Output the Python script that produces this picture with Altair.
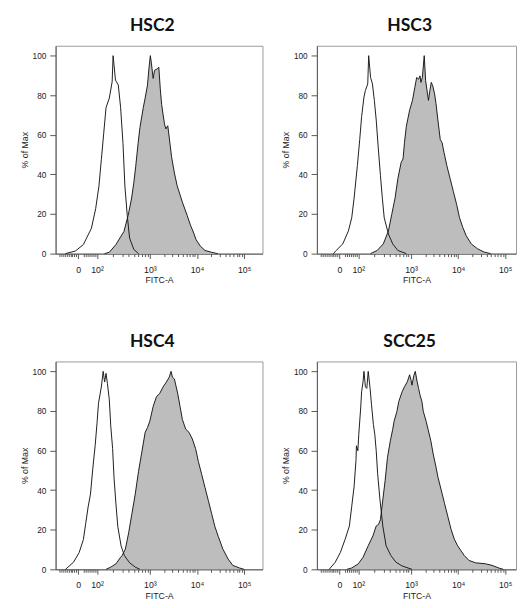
import altair as alt
import pandas as pd
import numpy as np

# ---- data (x in display units of the biexponential FITC-A axis:
#      10^3 -> 3, 10^4 -> 4, 10^5 -> 5, "0" -> 1.48, 10^2 -> 1.88; y in % of Max) ----
hsc2_ctrl_x = [1.21, 1.42, 1.59, 1.76, 1.85, 1.92, 1.97, 2.02, 2.07, 2.14, 2.20, 2.22, 2.27, 2.29,
               2.33, 2.38, 2.43, 2.47, 2.52, 2.57, 2.66, 2.76]
hsc2_ctrl_y = [0, 1.3, 4.6, 12.8, 22.7, 34.2, 47.4, 60.5, 73.7, 78.6, 86.8, 100, 87.7, 86.8,
               85.2, 73.7, 55.6, 34.2, 19.4, 7.9, 2.1, 0]
hsc2_stain_x = [2.04, 2.14, 2.28, 2.45, 2.54, 2.61, 2.66, 2.70, 2.75, 2.79, 2.86, 2.90, 2.95, 2.98,
                3.01, 3.03, 3.07, 3.10, 3.16, 3.19, 3.22, 3.25, 3.31, 3.34, 3.38, 3.41, 3.46, 3.52,
                3.58, 3.69, 3.79, 3.86, 3.93, 3.98, 4.07, 4.17, 4.34, 4.44]
hsc2_stain_y = [0, 0.7, 4.6, 11.2, 19.4, 27.6, 35.9, 44.1, 55.6, 63.8, 73.7, 78.6, 85.2, 93.4,
                100, 96.7, 88.5, 92.6, 93.4, 94.2, 83.6, 75.3, 65.5, 63.0, 64.6, 58.9, 49.0, 40.8,
                34.2, 26.0, 19.4, 14.5, 10.4, 7.1, 3.8, 1.6, 0.5, 0]

hsc3_ctrl_x = [1.35, 1.41, 1.55, 1.67, 1.74, 1.79, 1.86, 1.91, 1.95, 2.00, 2.03, 2.08, 2.10, 2.14,
               2.18, 2.22, 2.26, 2.30, 2.35, 2.39, 2.43, 2.52, 2.61, 2.72, 2.90]
hsc3_ctrl_y = [0, 1.6, 4.9, 11.5, 18.1, 28.0, 44.5, 57.7, 69.2, 79.1, 82.4, 85.7, 100, 89.0,
               85.7, 77.4, 67.5, 54.4, 39.5, 28.0, 18.1, 9.9, 4.9, 1.6, 0]
hsc3_stain_x = [2.14, 2.28, 2.41, 2.52, 2.59, 2.66, 2.72, 2.79, 2.83, 2.86, 2.90, 2.97, 3.03, 3.08,
                3.12, 3.16, 3.19, 3.21, 3.24, 3.28, 3.31, 3.37, 3.40, 3.43, 3.46, 3.50, 3.53, 3.57,
                3.62, 3.66, 3.70, 3.76, 3.83, 3.90, 3.97, 4.03, 4.10, 4.17, 4.28, 4.41, 4.55, 4.69]
hsc3_stain_y = [0, 1.6, 4.9, 11.5, 19.8, 28.0, 37.9, 46.1, 47.8, 56.0, 64.3, 72.5, 77.4, 84.0,
                89.0, 88.1, 89.8, 86.5, 89.0, 100, 87.3, 77.4, 82.4, 86.5, 84.8, 80.7, 75.8, 67.5,
                57.7, 56.0, 51.1, 44.5, 37.9, 31.3, 24.7, 18.1, 13.2, 9.1, 4.9, 2.5, 0.8, 0]

hsc4_ctrl_x = [1.21, 1.38, 1.50, 1.59, 1.64, 1.69, 1.74, 1.79, 1.84, 1.88, 1.91, 1.97, 2.01, 2.04,
               2.07, 2.10, 2.14, 2.17, 2.21, 2.24, 2.28, 2.32, 2.39, 2.46, 2.57, 2.69, 2.79]
hsc4_ctrl_y = [0, 3.6, 8.5, 15.1, 23.3, 31.5, 38.0, 51.1, 62.6, 74.1, 83.9, 92.1, 100, 94.6,
               99.0, 93.8, 85.6, 72.5, 61.0, 46.2, 33.1, 21.6, 11.8, 6.9, 3.3, 1.1, 0]
hsc4_stain_x = [2.07, 2.17, 2.28, 2.38, 2.41, 2.48, 2.55, 2.62, 2.69, 2.76, 2.83, 2.90, 2.95, 3.00,
                3.07, 3.14, 3.21, 3.28, 3.35, 3.41, 3.45, 3.48, 3.52, 3.59, 3.64, 3.69, 3.76, 3.83,
                3.90, 3.97, 4.03, 4.10, 4.17, 4.24, 4.31, 4.38, 4.45, 4.55, 4.66, 4.76, 4.90, 5.00]
hsc4_stain_y = [0, 1.1, 2.8, 6.1, 6.9, 10.2, 18.4, 28.2, 38.0, 49.5, 59.3, 69.2, 71.6, 74.9,
                82.3, 87.2, 88.9, 92.1, 94.6, 97.0, 100, 97.0, 96.2, 88.9, 82.3, 75.7, 70.8, 69.2,
                65.9, 61.0, 54.4, 47.9, 41.3, 34.8, 28.2, 21.6, 16.7, 10.2, 5.2, 2.0, 0.7, 0]

scc25_ctrl_x = [1.26, 1.39, 1.50, 1.60, 1.69, 1.74, 1.79, 1.83, 1.84, 1.87, 1.89, 1.93, 1.95, 1.98,
                2.00, 2.03, 2.06, 2.09, 2.13, 2.16, 2.20, 2.23, 2.26, 2.29, 2.34, 2.40, 2.47, 2.57,
                2.68, 2.81, 3.02]
scc25_ctrl_y = [0, 3.6, 8.6, 15.2, 21.9, 31.8, 41.7, 55.0, 62.4, 59.9, 68.2, 81.5, 89.7, 94.7,
                100, 92.2, 91.4, 100, 91.4, 83.1, 73.2, 68.2, 59.9, 48.3, 35.1, 21.9, 11.9, 7.0,
                3.6, 1.7, 0]
scc25_stain_x = [1.64, 1.74, 1.88, 1.98, 2.09, 2.19, 2.26, 2.31, 2.35, 2.40, 2.45, 2.50, 2.56, 2.61,
                 2.64, 2.70, 2.74, 2.81, 2.86, 2.92, 2.97, 3.00, 3.02, 3.06, 3.09, 3.13, 3.16, 3.19,
                 3.23, 3.26, 3.32, 3.37, 3.42, 3.47, 3.53, 3.57, 3.64, 3.71, 3.78, 3.85, 3.92, 3.99,
                 4.06, 4.13, 4.23, 4.37, 4.58, 4.72, 4.86, 4.96]
scc25_stain_y = [0, 0.7, 2.8, 6.1, 11.9, 16.9, 21.9, 22.7, 25.2, 35.1, 45.0, 56.6, 64.9, 70.7,
                 74.8, 79.8, 84.8, 89.7, 92.2, 94.7, 98.3, 95.5, 93.0, 98.0, 100, 94.7, 91.4, 88.1,
                 84.8, 79.8, 74.8, 69.9, 64.9, 58.3, 51.7, 46.7, 40.1, 33.4, 26.8, 20.2, 15.2, 11.9,
                 9.4, 7.0, 4.5, 3.3, 2.8, 2.0, 0.7, 0]

panel_names = ["HSC2", "HSC3", "HSC4", "SCC25"]
x_tick_values = [1.48, 1.88, 3.0, 4.0, 5.0]
x_tick_labels = ["0", "10²", "10³", "10⁴", "10⁵"]
y_tick_values = list(range(0, 105, 5))

# minor ticks of the biexponential axis (linear part around 0, logarithmic part above)
minor_lin = [round(1.48 + 0.004 * v, 3) for v in list(range(-100, 0, 10)) + list(range(30, 100, 10))]
minor_log = [float(round(1.88 + 1.12 * np.log10(k), 3)) for k in range(2, 10)] + \
            [float(round(d + np.log10(k), 3)) for d in (3, 4) for k in range(2, 10)]
x_minor_ticks = sorted(set(minor_lin + minor_log))

label_expr = " : ".join(
    f"abs(datum.value - {v}) < 0.001 ? '{l}'" for v, l in zip(x_tick_values, x_tick_labels)
) + " : ''"

LABEL_FONT = "Liberation Sans"
AX_COLOR = "#555555"
TXT = "#222222"


def panel(name, cx, cy, sx, sy, width, xmax):
    ctrl = pd.DataFrame({"x": cx, "y": cy})
    stain = pd.DataFrame({"x": sx, "y": sy})
    xs = alt.Scale(domain=[1.0, xmax], nice=False, zero=False)
    ys = alt.Scale(domain=[0, 105], nice=False)
    xaxis = alt.Axis(
        title="FITC-A", values=x_tick_values, labelExpr=label_expr, orient="bottom",
        tickSize=5, grid=False, labelFont=LABEL_FONT, labelFontSize=9, labelColor=TXT,
        labelPadding=7, labelOverlap=False, labelFlush=False,
        titleFont=LABEL_FONT, titleFontSize=9, titleFontWeight="normal", titleColor=TXT,
        titlePadding=2, domainColor=AX_COLOR, tickColor=AX_COLOR,
    )
    xminor = alt.Axis(
        title=None, values=x_minor_ticks, orient="bottom", tickSize=3, labels=False,
        domain=False, grid=False, tickColor=AX_COLOR,
    )
    yaxis = alt.Axis(
        title="% of Max", values=y_tick_values,
        labelExpr="datum.value % 20 === 0 ? datum.label : ''",
        tickSize={"condition": {"test": "datum.value % 20 === 0", "value": 6}, "value": 3},
        grid=False, labelFont=LABEL_FONT, labelFontSize=8.5, labelColor=TXT,
        labelPadding=4, labelOverlap=False,
        titleFont=LABEL_FONT, titleFontSize=9, titleFontWeight="normal", titleColor=TXT,
        titlePadding=3, domainColor=AX_COLOR, tickColor=AX_COLOR,
    )
    area = alt.Chart(stain).mark_area(
        color="#bdbdbd", line={"color": "#1a1a1a", "strokeWidth": 1}, opacity=1
    ).encode(
        x=alt.X("x:Q", scale=xs, axis=xaxis),
        y=alt.Y("y:Q", scale=ys, axis=yaxis),
    )
    line = alt.Chart(ctrl).mark_line(color="#1a1a1a", strokeWidth=1).encode(
        x=alt.X("x:Q", scale=xs, axis=xminor), y=alt.Y("y:Q", scale=ys)
    )
    return alt.layer(area, line).resolve_axis(x="independent").properties(
        width=width, height=214,
        title=alt.TitleParams(name, font="Lato", fontSize=18, fontWeight="bold",
                              color="#111", anchor="middle", dx=-7, offset=11),
    )


p1 = panel(panel_names[0], hsc2_ctrl_x, hsc2_ctrl_y, hsc2_stain_x, hsc2_stain_y, 213, 5.39)
p2 = panel(panel_names[1], hsc3_ctrl_x, hsc3_ctrl_y, hsc3_stain_x, hsc3_stain_y, 205, 5.23)
p3 = panel(panel_names[2], hsc4_ctrl_x, hsc4_ctrl_y, hsc4_stain_x, hsc4_stain_y, 213, 5.39)
p4 = panel(panel_names[3], scc25_ctrl_x, scc25_ctrl_y, scc25_stain_x, scc25_stain_y, 205, 5.23)

chart = alt.vconcat(
    alt.hconcat(p1, p2, spacing=18),
    alt.hconcat(p3, p4, spacing=18),
    spacing=48,
).configure(
    padding={"left": 12, "top": 0, "right": 0, "bottom": 0}
).configure_view(stroke="#999999", strokeWidth=1)

chart.save("out.html", embed_options={"renderer": "svg", "actions": False})
